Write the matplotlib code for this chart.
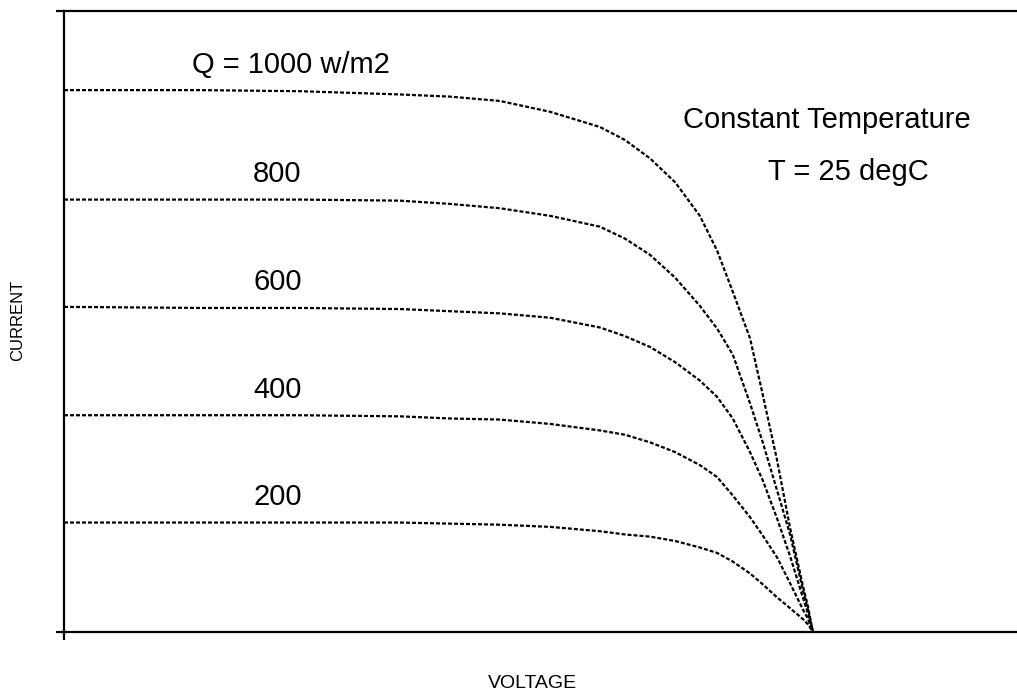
import matplotlib
matplotlib.use("Agg")
import matplotlib.pyplot as plt

plt.rcParams['font.family'] = ['Liberation Sans', 'DejaVu Sans']

# Voltage (arbitrary units, open-circuit voltage = 20)
voltage = [0, 3.63, 6.30, 8.97, 10.31, 11.64, 12.98, 14.31, 14.98, 15.65,
           16.32, 16.98, 17.44, 17.86, 18.32, 18.66, 19.04, 19.39, 19.73,
           19.87, 20.00]

# Current (arbitrary units) for each irradiance level
i_1000 = [5.00, 5.00, 4.99, 4.96, 4.94, 4.90, 4.80, 4.66, 4.54, 4.37,
          4.15, 3.84, 3.52, 3.14, 2.71, 2.19, 1.59, 0.96, 0.43, 0.23, 0]
i_800 = [3.99, 3.99, 3.99, 3.98, 3.95, 3.91, 3.84, 3.74, 3.63, 3.48,
         3.27, 3.01, 2.80, 2.56, 2.11, 1.75, 1.31, 0.90, 0.39, 0.20, 0]
i_600 = [3.00, 2.99, 2.99, 2.98, 2.96, 2.94, 2.90, 2.81, 2.73, 2.63,
         2.49, 2.32, 2.17, 1.97, 1.66, 1.40, 1.05, 0.70, 0.32, 0.17, 0]
i_400 = [2.00, 2.00, 2.00, 1.99, 1.97, 1.96, 1.92, 1.86, 1.82, 1.75,
         1.66, 1.54, 1.43, 1.26, 1.06, 0.89, 0.69, 0.45, 0.21, 0.12, 0]
i_200 = [1.01, 1.01, 1.01, 1.01, 1.00, 0.99, 0.97, 0.93, 0.90, 0.88,
         0.84, 0.78, 0.73, 0.65, 0.54, 0.44, 0.32, 0.22, 0.12, 0.07, 0]

curves = [i_1000, i_800, i_600, i_400, i_200]
labels = ['Q = 1000 w/m2', '800', '600', '400', '200']
label_x = [3.42, 5.05, 5.05, 5.05, 5.05]

fig = plt.figure(figsize=(10.17, 6.99), dpi=100)
ax = fig.add_axes([64 / 1017, 67 / 699, 953 / 1017, 621 / 699])

for cur in curves:
    ax.plot(voltage, cur, color='black', linewidth=1.6, linestyle=(0, (1.8, 0.9)))

# irradiance labels just above each curve
for cur, lab, lx in zip(curves, labels, label_x):
    ax.text(lx, cur[0] + 0.16, lab, fontsize=21, va='baseline', ha='left')

ax.text(16.53, 4.65, 'Constant Temperature', fontsize=21, va='baseline', ha='left')
ax.text(18.8, 4.17, 'T = 25 degC', fontsize=21, va='baseline', ha='left')

ax.set_xlim(0, 25.45)
ax.set_ylim(0, 5.73)

for side in ['left', 'bottom', 'top']:
    ax.spines[side].set_linewidth(1.6)
ax.spines['right'].set_visible(False)

ax.set_xticks([0])
ax.set_yticks([0, 5.73])
ax.set_xticklabels([])
ax.set_yticklabels([])
ax.tick_params(direction='out', length=6, width=1.6)

fig.text(532 / 1017, 1 - 684 / 699, 'VOLTAGE', fontsize=14, ha='center', va='center')
fig.text(18 / 1017, 1 - 320 / 699, 'CURRENT', fontsize=12, ha='center', va='center',
         rotation=90)

fig.savefig('out.png', dpi=100)
